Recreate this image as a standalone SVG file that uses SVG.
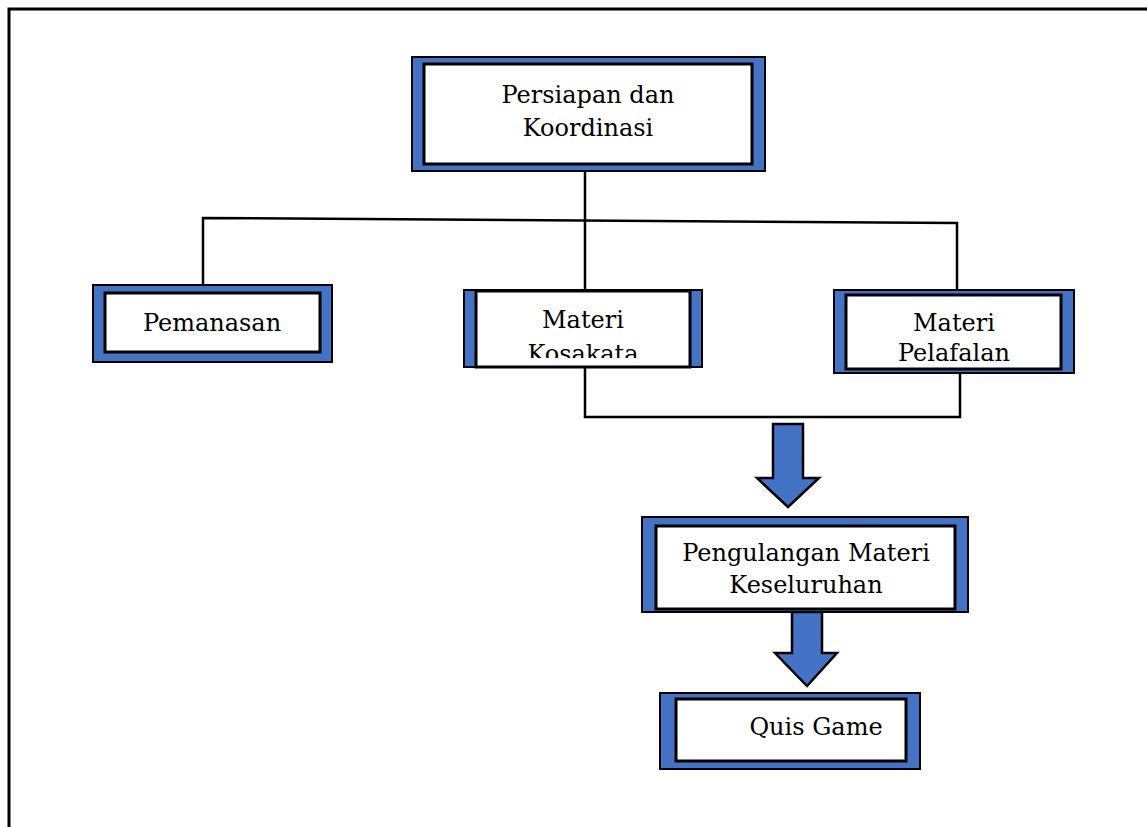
<svg xmlns="http://www.w3.org/2000/svg" width="1147" height="827" viewBox="0 0 1147 827">
<style>
.outer{fill:#4472C4;stroke:#000;stroke-width:2}
.inner{fill:#fff;stroke:#000;stroke-width:3}
.lbl{font-family:"DejaVu Serif",serif;font-size:24px;fill:#000;text-anchor:middle}
.conn{fill:none;stroke:#000;stroke-width:2.5}
.arrow{fill:#4472C4;stroke:#000;stroke-width:2.5;stroke-linejoin:miter}
</style>
<defs>
<clipPath id="clipKos"><rect x="476" y="292" width="214" height="66"/></clipPath>
</defs>
<rect width="1147" height="827" fill="#fff"/>
<path d="M9,827 V9 H1147" fill="none" stroke="#000" stroke-width="3"/>
<g id="connectors">
<line class="conn" x1="585" y1="170" x2="585" y2="292"/>
<polyline class="conn" points="203,288 203,218 957,223 957,291"/>
<polyline class="conn" points="585,367 585,417 960,417 960,373"/>
<polygon class="arrow" points="773,424 803,424 803,478 819,478 788,507 757,478 773,478"/>
<polygon class="arrow" points="792,612 822,612 822,653 837,653 807,686 775,653 792,653"/>
</g>
<g id="persiapan">
<rect class="outer" x="412" y="57" width="353" height="114"/>
<rect class="inner" x="424" y="64" width="328" height="100"/>
<text class="lbl" x="588" y="103">Persiapan dan</text>
<text class="lbl" x="588" y="136">Koordinasi</text>
</g>
<g id="pemanasan">
<rect class="outer" x="93" y="285" width="239" height="77"/>
<rect class="inner" x="105" y="293" width="215" height="59"/>
<text class="lbl" x="212" y="331">Pemanasan</text>
</g>
<g id="kosakata">
<rect class="outer" x="464" y="290" width="238" height="77"/>
<rect class="inner" x="476" y="291" width="214" height="76"/>
<g clip-path="url(#clipKos)">
<text class="lbl" x="583" y="328">Materi</text>
<text class="lbl" x="583" y="362">Kosakata</text>
</g>
</g>
<g id="pelafalan">
<rect class="outer" x="834" y="290" width="240" height="83"/>
<rect class="inner" x="846" y="295" width="215" height="74"/>
<text class="lbl" x="954" y="331">Materi</text>
<text class="lbl" x="954" y="361">Pelafalan</text>
</g>
<g id="pengulangan">
<rect class="outer" x="642" y="517" width="326" height="95"/>
<rect class="inner" x="656" y="526" width="299" height="83"/>
<text class="lbl" x="806" y="561">Pengulangan Materi</text>
<text class="lbl" x="806" y="593">Keseluruhan</text>
</g>
<g id="quis">
<rect class="outer" x="660" y="693" width="260" height="76"/>
<rect class="inner" x="676" y="699" width="230" height="62"/>
<text class="lbl" x="816" y="735">Quis Game</text>
</g>
</svg>
